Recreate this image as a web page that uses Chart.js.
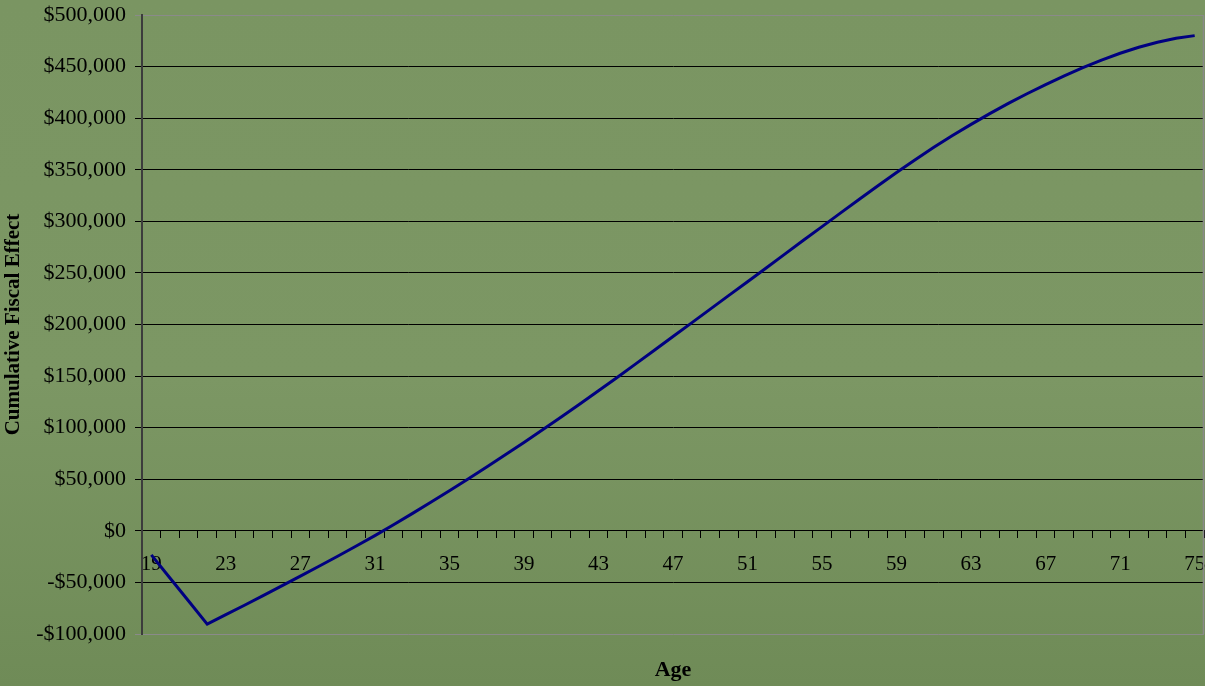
<!DOCTYPE html>
<html>
<head>
<meta charset="utf-8">
<script src="https://cdn.jsdelivr.net/npm/chart.js@4.4.1/dist/chart.umd.min.js"></script>
<style>
  html, body { margin: 0; padding: 0; }
  body {
    width: 1205px; height: 686px; overflow: hidden;
    background: linear-gradient(180deg, #7a9562 0%, #7c9764 55%, #6f8b57 100%);
  }
  #wrap { position: relative; width: 1205px; height: 686px; }
</style>
</head>
<body>
<div id="wrap"><canvas id="c"></canvas></div>
<script>
// Ages along the horizontal axis
const ages = [];
for (let a = 19; a <= 75; a++) ages.push(String(a));

// Cumulative fiscal effect at each age (dollars)
const cumulativeEffect = [
  -23300, -45700, -68000, -90400, -81300, -72100, -62800, -53400, -43900, -34300,
  -24600, -14700, -4600, 5900, 16700, 27700, 38900, 50300, 61900, 73700,
  85700, 97900, 110300, 122900, 135700, 148700, 161800, 175000, 188300, 201600,
  214900, 228200, 241500, 254800, 268200, 281600, 294900, 308200, 321400, 334500,
  347400, 359800, 371700, 383100, 394000, 404400, 414300, 423700, 432600, 441000,
  448900, 456300, 462900, 468700, 473600, 477400, 480000
];

// Vertical axis range and labelled ages
const yMin = -100000, yMax = 500000, yStep = 50000;
const labelledAges = ['19','23','27','31','35','39','43','47','51','55','59','63','67','71','75'];

const serif = "'Liberation Serif', 'Times New Roman', serif";

function money(v) {
  const s = Math.abs(v).toLocaleString('en-US');
  return (v < 0 ? '-$' : '$') + s;
}

// Grey frame on the right side of the plot area
const frame = {
  id: 'frame',
  afterDraw(chart) {
    const a = chart.chartArea, ctx = chart.ctx;
    ctx.save();
    ctx.strokeStyle = '#8a8a8a';
    ctx.lineWidth = 1.5;
    ctx.beginPath();
    ctx.moveTo(a.right - 0.5, a.top);
    ctx.lineTo(a.right - 0.5, a.bottom);
    ctx.stroke();
    ctx.restore();
  }
};

new Chart(document.getElementById('c'), {
  type: 'line',
  data: {
    labels: ages,
    datasets: [{
      data: cumulativeEffect,
      borderColor: '#000080',
      borderWidth: 3,
      pointRadius: 0,
      tension: 0,
      fill: false
    }]
  },
  options: {
    responsive: true,
    maintainAspectRatio: false,
    animation: false,
    devicePixelRatio: 1,
    layout: { padding: { top: 15, right: 1, left: 0, bottom: 0 } },
    plugins: { legend: { display: false }, tooltip: { enabled: false } },
    scales: {
      x: {
        type: 'category',
        position: { y: 0 },
        offset: true,
        grid: {
          offset: true,
          drawOnChartArea: false,
          drawTicks: true,
          tickLength: 7,
          color: '#000000',
          lineWidth: 1
        },
        border: { display: true, color: '#000000', width: 1 },
        ticks: {
          autoSkip: false,
          maxRotation: 0,
          minRotation: 0,
          padding: 14,
          color: '#000000',
          font: { family: serif, size: 21 },
          callback: function (val) {
            const lab = this.getLabelForValue(val);
            return labelledAges.includes(lab) ? lab : '';
          }
        },
        afterFit: (s) => { s.paddingLeft = 0; s.paddingRight = 0; }
      },
      x2: {
        type: 'category',
        position: 'bottom',
        labels: ages,
        grid: { display: false },
        border: { display: false },
        ticks: { display: false },
        title: {
          display: true,
          text: 'Age',
          color: '#000000',
          font: { family: serif, size: 22, weight: 'bold' },
          padding: { top: 0, bottom: 2 }
        },
        afterFit: (s) => { s.height = 52; s.paddingLeft = 0; s.paddingRight = 0; }
      },
      y: {
        min: yMin,
        max: yMax,
        ticks: {
          stepSize: yStep,
          padding: 9,
          color: '#000000',
          font: { family: serif, size: 22 },
          callback: (v) => money(v)
        },
        grid: {
          tickLength: 7,
          lineWidth: 1,
          color: (ctx) => {
            const v = ctx.tick ? ctx.tick.value : null;
            return (v === yMax || v === yMin) ? '#8a8a8a' : '#000000';
          }
        },
        border: { display: true, color: '#3c3c3c', width: 2 },
        title: {
          display: true,
          text: 'Cumulative Fiscal Effect',
          color: '#000000',
          font: { family: serif, size: 21, weight: 'bold' },
          padding: { top: 1, bottom: 0 }
        },
        afterFit: (s) => { s.width = 142; s.paddingTop = 0; s.paddingBottom = 0; }
      }
    }
  },
  plugins: [frame]
});
</script>
</body>
</html>
